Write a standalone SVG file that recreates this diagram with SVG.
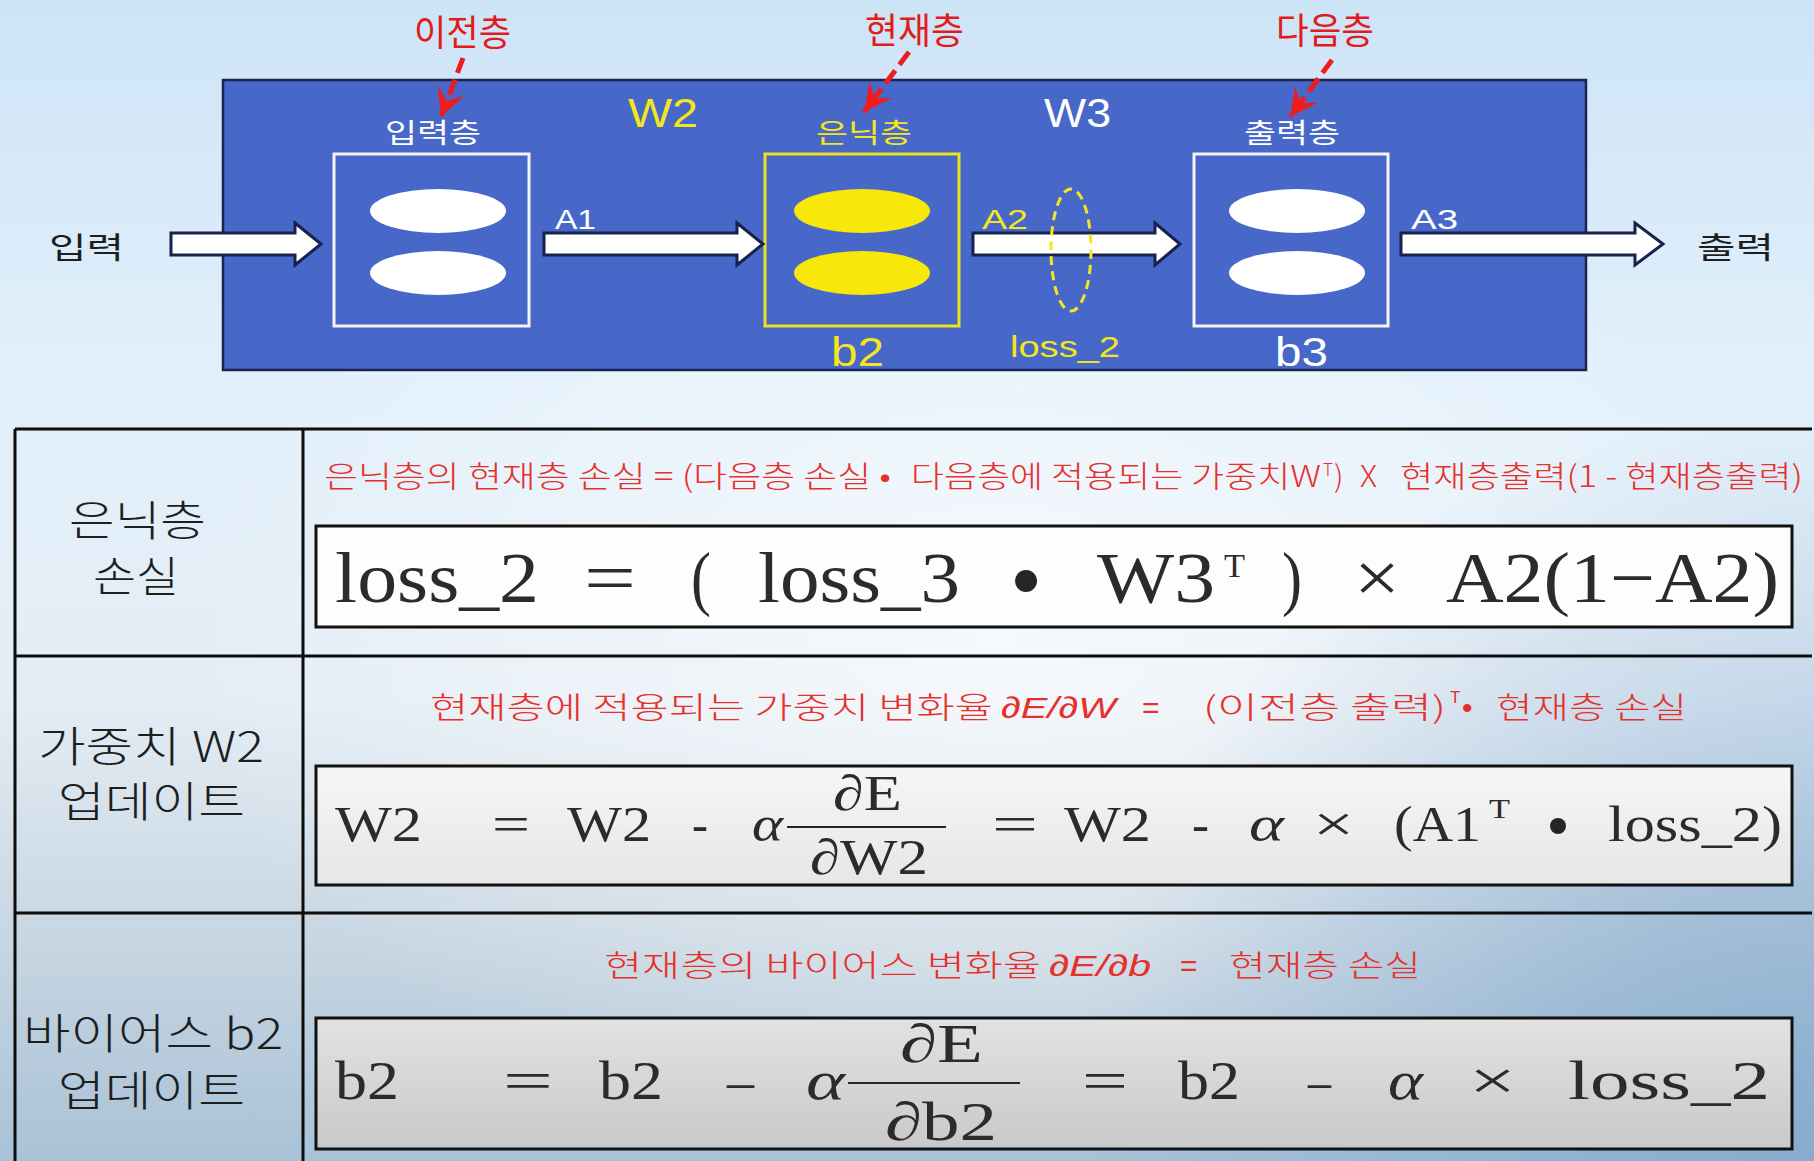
<svg xmlns="http://www.w3.org/2000/svg" width="1814" height="1161" viewBox="0 0 1814 1161">
<defs>
  <linearGradient id="bg" x1="0" y1="0" x2="0" y2="1">
    <stop offset="0" stop-color="#cde4f7"/>
    <stop offset="0.33" stop-color="#e2f0fb"/>
    <stop offset="0.6" stop-color="#e4edf5"/>
    <stop offset="0.8" stop-color="#c9d7e2"/>
    <stop offset="1" stop-color="#a9c2d7"/>
  </linearGradient>
  <radialGradient id="hl" cx="0.55" cy="0.55" r="0.45">
    <stop offset="0" stop-color="#ffffff" stop-opacity="0.65"/>
    <stop offset="1" stop-color="#ffffff" stop-opacity="0"/>
  </radialGradient>
  <radialGradient id="rightShade" gradientUnits="userSpaceOnUse" cx="1814" cy="1161" r="750">
    <stop offset="0" stop-color="#7aa4cc" stop-opacity="0.75"/>
    <stop offset="1" stop-color="#7aa4cc" stop-opacity="0"/>
  </radialGradient>
  <linearGradient id="box2" x1="0" y1="0" x2="0" y2="1">
    <stop offset="0" stop-color="#f6f6f6"/>
    <stop offset="1" stop-color="#e6e6e6"/>
  </linearGradient>
  <linearGradient id="box3" x1="0" y1="0" x2="0" y2="1">
    <stop offset="0" stop-color="#e2e2e2"/>
    <stop offset="1" stop-color="#c9c9c9"/>
  </linearGradient>
  <marker id="redHead" viewBox="-30 -16 32 32" refX="0" refY="0" markerWidth="32" markerHeight="32" markerUnits="userSpaceOnUse" orient="auto">
    <path d="M0,0 L-28,-14 L-17,0 L-28,14 Z" fill="#ee1c1c"/>
  </marker>
  <style>
    .kr { font-family: "Noto Sans CJK KR", "Noto Sans", sans-serif; }
    .lt { font-weight: 300; }
    .lat { font-family: "Liberation Sans", Arial, sans-serif; }
    .math { font-family: "Liberation Serif", "Times New Roman", serif; fill: #2b2b2b; }
    .it { font-style: italic; }
    .red { fill: #e5302b; }
    .tred { fill: #e31b1b; }
    .wh { fill: #ffffff; }
    .yl { fill: #f4e61c; }
    .blk { fill: #1e1e1e; }
    .barrow { fill: #ffffff; stroke: #16214d; stroke-width: 3; stroke-linejoin: miter; }
    .dash { fill: none; stroke: #ee1c1c; stroke-width: 5; stroke-dasharray: 16 7; marker-end: url(#redHead); }
    .tline { stroke: #0d0d0d; stroke-width: 3; fill: none; }
    .fbox { stroke: #111111; stroke-width: 3; }
  </style>
</defs>

<!-- background -->
<rect x="0" y="0" width="1814" height="1161" fill="url(#bg)"/>
<rect x="0" y="0" width="1814" height="1161" fill="url(#hl)"/>
<rect x="0" y="0" width="1814" height="1161" fill="url(#rightShade)"/>

<!-- top red labels -->
<g id="label-prev"><text class="kr tred" x="414" y="46" font-size="36" textLength="97" lengthAdjust="spacingAndGlyphs">이전층</text></g>
<g id="label-curr"><text class="kr tred" x="865" y="44" font-size="36" textLength="99" lengthAdjust="spacingAndGlyphs">현재층</text></g>
<g id="label-next"><text class="kr tred" x="1276" y="44" font-size="36" textLength="98" lengthAdjust="spacingAndGlyphs">다음층</text></g>

<!-- network panel -->
<g id="panel">
  <rect x="223" y="80" width="1363" height="290" fill="#4768c9" stroke="#1b2350" stroke-width="2.5"/>
  <text class="lat yl" x="628" y="127" font-size="40" textLength="70" lengthAdjust="spacingAndGlyphs">W2</text>
  <text class="lat wh" x="1044" y="127" font-size="40" textLength="67" lengthAdjust="spacingAndGlyphs">W3</text>
</g>

<g id="input-layer">
  <text class="kr wh" x="385" y="143" font-size="27" textLength="96" lengthAdjust="spacingAndGlyphs">입력층</text>
  <rect x="334" y="154" width="195" height="172" fill="none" stroke="#f4f4f4" stroke-width="3"/>
  <ellipse cx="438" cy="211" rx="68" ry="22" fill="#ffffff"/>
  <ellipse cx="438" cy="273" rx="68" ry="22" fill="#ffffff"/>
</g>

<g id="hidden-layer">
  <text class="kr yl" x="816" y="143" font-size="27" textLength="96" lengthAdjust="spacingAndGlyphs">은닉층</text>
  <rect x="765" y="154" width="194" height="172" fill="none" stroke="#ece21e" stroke-width="3"/>
  <ellipse cx="862" cy="211" rx="68" ry="22" fill="#f7e80a"/>
  <ellipse cx="862" cy="273" rx="68" ry="22" fill="#f7e80a"/>
  <text class="lat yl" x="831" y="366" font-size="40" textLength="53" lengthAdjust="spacingAndGlyphs">b2</text>
</g>

<g id="output-layer">
  <text class="kr wh" x="1244" y="143" font-size="27" textLength="96" lengthAdjust="spacingAndGlyphs">출력층</text>
  <rect x="1194" y="154" width="194" height="172" fill="none" stroke="#f4f4f4" stroke-width="3"/>
  <ellipse cx="1297" cy="211" rx="68" ry="22" fill="#ffffff"/>
  <ellipse cx="1297" cy="273" rx="68" ry="22" fill="#ffffff"/>
  <text class="lat wh" x="1275" y="366" font-size="40" textLength="53" lengthAdjust="spacingAndGlyphs">b3</text>
</g>

<g id="input-label"><text class="kr blk" x="49" y="258" font-size="30" textLength="75" lengthAdjust="spacingAndGlyphs">입력</text></g>
<g id="output-label"><text class="kr blk" x="1697" y="258" font-size="30" textLength="77" lengthAdjust="spacingAndGlyphs">출력</text></g>

<!-- connectors -->
<g id="connectors">
  <polygon class="barrow" points="171,233 295,233 295,223 321,244 295,265 295,255 171,255"/>
  <polygon class="barrow" points="544,233 737,233 737,223 763,244 737,265 737,255 544,255"/>
  <polygon class="barrow" points="973,233 1155,233 1155,223 1180,244 1155,265 1155,255 973,255"/>
  <polygon class="barrow" points="1401,233 1635,233 1635,223 1663,244 1635,265 1635,255 1401,255"/>
  <path class="dash" d="M463,58 L441,117"/>
  <path class="dash" d="M909,52 L864,112"/>
  <path class="dash" d="M1332,60 L1290,117"/>
</g>

<g id="edge-labels">
  <text class="lat wh" x="555" y="229" font-size="28" textLength="41" lengthAdjust="spacingAndGlyphs">A1</text>
  <text class="lat yl" x="982" y="229" font-size="28" textLength="46" lengthAdjust="spacingAndGlyphs">A2</text>
  <text class="lat wh" x="1411" y="229" font-size="28" textLength="47" lengthAdjust="spacingAndGlyphs">A3</text>
</g>

<g id="loss2-marker">
  <ellipse cx="1071" cy="250" rx="20" ry="61" fill="none" stroke="#f4e61c" stroke-width="3" stroke-dasharray="9 6"/>
  <text class="lat yl" x="1010" y="357" font-size="29" textLength="110" lengthAdjust="spacingAndGlyphs">loss_2</text>
</g>

<!-- table -->
<g id="table-lines">
  <path class="tline" d="M15,429 L1812,429 M15,656 L1812,656 M15,913 L1812,913 M15,429 L15,1161 M303,429 L303,1161"/>
</g>

<g id="row-hidden-loss">
  <text class="kr lt blk" x="69" y="536" font-size="42" textLength="137" lengthAdjust="spacingAndGlyphs">은닉층</text>
  <text class="kr lt blk" x="93" y="592" font-size="42" textLength="86" lengthAdjust="spacingAndGlyphs">손실</text>
  <text class="kr lt red" x="324" y="487" font-size="30" textLength="567" lengthAdjust="spacingAndGlyphs">은닉층의 현재층 손실  = (다음층 손실 •</text>
  <text class="kr lt red" x="911" y="487" font-size="30" textLength="410" lengthAdjust="spacingAndGlyphs">다음층에 적용되는 가중치W</text>
  <text class="kr lt red" x="1323" y="476" font-size="17">T</text>
  <text class="kr lt red" x="1334" y="487" font-size="30">)</text>
  <text class="kr lt red" x="1360" y="487" font-size="30" textLength="17" lengthAdjust="spacingAndGlyphs">X</text>
  <text class="kr lt red" x="1400" y="487" font-size="30" textLength="403" lengthAdjust="spacingAndGlyphs">현재층출력(1 - 현재층출력)</text>
  <rect class="fbox" x="316" y="526" width="1476" height="101" fill="#fdfdfd"/>
  <text class="math" x="335" y="602" font-size="72" textLength="204" lengthAdjust="spacingAndGlyphs">loss_2</text>
  <text class="math" x="584" y="602" font-size="72" textLength="52" lengthAdjust="spacingAndGlyphs">=</text>
  <text class="math" x="691" y="602" font-size="72" textLength="20" lengthAdjust="spacingAndGlyphs">(</text>
  <text class="math" x="758" y="602" font-size="72" textLength="202" lengthAdjust="spacingAndGlyphs">loss_3</text>
  <circle cx="1026" cy="581" r="11" fill="#262626"/>
  <text class="math" x="1097" y="602" font-size="72" textLength="118" lengthAdjust="spacingAndGlyphs">W3</text>
  <text class="math" x="1224" y="577" font-size="34" textLength="21" lengthAdjust="spacingAndGlyphs">T</text>
  <text class="math" x="1282" y="602" font-size="72" textLength="20" lengthAdjust="spacingAndGlyphs">)</text>
  <text class="math" x="1354" y="602" font-size="72" textLength="46" lengthAdjust="spacingAndGlyphs">×</text>
  <text class="math" x="1446" y="602" font-size="72" textLength="333" lengthAdjust="spacingAndGlyphs">A2(1−A2)</text>
</g>

<g id="row-weight-update">
  <text class="kr lt blk" x="38" y="762" font-size="42" textLength="226" lengthAdjust="spacingAndGlyphs">가중치 W2</text>
  <text class="kr lt blk" x="58" y="817" font-size="42" textLength="187" lengthAdjust="spacingAndGlyphs">업데이트</text>
  <text class="kr lt red" x="430" y="718" font-size="30" textLength="563" lengthAdjust="spacingAndGlyphs">현재층에 적용되는 가중치 변화율</text>
  <text class="lat red it" x="1001" y="718" font-size="30" textLength="115" lengthAdjust="spacingAndGlyphs">∂E/∂W</text>
  <text class="lat red" x="1142" y="718" font-size="30">=</text>
  <text class="kr lt red" x="1203" y="718" font-size="30" textLength="243" lengthAdjust="spacingAndGlyphs">(이전층 출력)</text>
  <text class="lat red" x="1450" y="703" font-size="17">T</text>
  <text class="lat red" x="1462" y="718" font-size="30">•</text>
  <text class="kr lt red" x="1496" y="718" font-size="30" textLength="191" lengthAdjust="spacingAndGlyphs">현재층 손실</text>
  <rect class="fbox" x="316" y="766" width="1476" height="119" fill="url(#box2)"/>
  <text class="math" x="335" y="841" font-size="50" textLength="87" lengthAdjust="spacingAndGlyphs">W2</text>
  <text class="math" x="492" y="841" font-size="50" textLength="38" lengthAdjust="spacingAndGlyphs">=</text>
  <text class="math" x="567" y="841" font-size="50" textLength="84" lengthAdjust="spacingAndGlyphs">W2</text>
  <text class="math" x="692" y="841" font-size="50" textLength="16" lengthAdjust="spacingAndGlyphs">-</text>
  <text class="math it" x="752" y="841" font-size="50" textLength="31" lengthAdjust="spacingAndGlyphs">α</text>
  <text class="math" x="833" y="810" font-size="50" textLength="69" lengthAdjust="spacingAndGlyphs">∂E</text>
  <line x1="787" y1="827" x2="946" y2="827" stroke="#262626" stroke-width="2"/>
  <text class="math" x="810" y="874" font-size="50" textLength="118" lengthAdjust="spacingAndGlyphs">∂W2</text>
  <text class="math" x="992" y="841" font-size="50" textLength="46" lengthAdjust="spacingAndGlyphs">=</text>
  <text class="math" x="1064" y="841" font-size="50" textLength="87" lengthAdjust="spacingAndGlyphs">W2</text>
  <text class="math" x="1192" y="841" font-size="50" textLength="17" lengthAdjust="spacingAndGlyphs">-</text>
  <text class="math it" x="1249" y="841" font-size="50" textLength="35" lengthAdjust="spacingAndGlyphs">α</text>
  <text class="math" x="1313" y="841" font-size="50" textLength="41" lengthAdjust="spacingAndGlyphs">×</text>
  <text class="math" x="1394" y="841" font-size="50" textLength="87" lengthAdjust="spacingAndGlyphs">(A1</text>
  <text class="math" x="1489" y="818" font-size="28" textLength="21" lengthAdjust="spacingAndGlyphs">T</text>
  <circle cx="1558" cy="826" r="8" fill="#262626"/>
  <text class="math" x="1608" y="841" font-size="50" textLength="174" lengthAdjust="spacingAndGlyphs">loss_2)</text>
</g>

<g id="row-bias-update">
  <text class="kr lt blk" x="23" y="1049" font-size="42" textLength="260" lengthAdjust="spacingAndGlyphs">바이어스 b2</text>
  <text class="kr lt blk" x="58" y="1106" font-size="42" textLength="187" lengthAdjust="spacingAndGlyphs">업데이트</text>
  <text class="kr lt red" x="604" y="976" font-size="30" textLength="437" lengthAdjust="spacingAndGlyphs">현재층의 바이어스 변화율</text>
  <text class="lat red it" x="1049" y="976" font-size="30" textLength="102" lengthAdjust="spacingAndGlyphs">∂E/∂b</text>
  <text class="lat red" x="1180" y="976" font-size="30">=</text>
  <text class="kr lt red" x="1229" y="976" font-size="30" textLength="192" lengthAdjust="spacingAndGlyphs">현재층 손실</text>
  <rect class="fbox" x="316" y="1018" width="1476" height="131" fill="url(#box3)"/>
  <text class="math" x="335" y="1099" font-size="54" textLength="64" lengthAdjust="spacingAndGlyphs">b2</text>
  <text class="math" x="503" y="1099" font-size="54" textLength="50" lengthAdjust="spacingAndGlyphs">=</text>
  <text class="math" x="599" y="1099" font-size="54" textLength="64" lengthAdjust="spacingAndGlyphs">b2</text>
  <text class="math" x="727" y="1099" font-size="54" textLength="27" lengthAdjust="spacingAndGlyphs">–</text>
  <text class="math it" x="806" y="1099" font-size="54" textLength="39" lengthAdjust="spacingAndGlyphs">α</text>
  <text class="math" x="900" y="1062" font-size="54" textLength="83" lengthAdjust="spacingAndGlyphs">∂E</text>
  <line x1="848" y1="1083" x2="1020" y2="1083" stroke="#262626" stroke-width="2"/>
  <text class="math" x="885" y="1140" font-size="54" textLength="112" lengthAdjust="spacingAndGlyphs">∂b2</text>
  <text class="math" x="1082" y="1099" font-size="54" textLength="46" lengthAdjust="spacingAndGlyphs">=</text>
  <text class="math" x="1178" y="1099" font-size="54" textLength="62" lengthAdjust="spacingAndGlyphs">b2</text>
  <text class="math" x="1308" y="1099" font-size="54" textLength="23" lengthAdjust="spacingAndGlyphs">–</text>
  <text class="math it" x="1388" y="1099" font-size="54" textLength="35" lengthAdjust="spacingAndGlyphs">α</text>
  <text class="math" x="1469" y="1099" font-size="54" textLength="47" lengthAdjust="spacingAndGlyphs">×</text>
  <text class="math" x="1568" y="1099" font-size="54" textLength="202" lengthAdjust="spacingAndGlyphs">loss_2</text>
</g>
</svg>
